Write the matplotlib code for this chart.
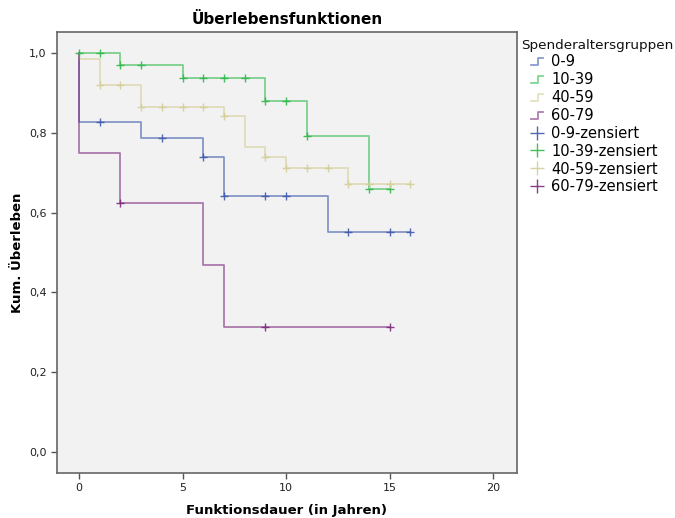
import numpy as np
import matplotlib
matplotlib.use("Agg")
import matplotlib.pyplot as plt
from matplotlib.lines import Line2D
from matplotlib.legend_handler import HandlerBase

# ---- data ----
groups = ["0-9", "10-39", "40-59", "60-79"]
colors = ["#3E58AC", "#2EB848", "#D3CE97", "#7C287D"]

t_0_9 = [0, 0, 3, 6, 7, 12, 16]
s_0_9 = [1.0, 0.828, 0.787, 0.740, 0.641, 0.551, 0.551]
c_0_9 = [1, 4, 6, 7, 9, 10, 13, 15, 16]

t_10_39 = [0, 2, 5, 9, 11, 14, 15]
s_10_39 = [1.0, 0.969, 0.9375, 0.879, 0.791, 0.659, 0.659]
c_10_39 = [0, 1, 2, 3, 5, 6, 7, 8, 9, 10, 11, 14, 15]

t_40_59 = [0, 0, 1, 3, 7, 8, 9, 10, 13, 16]
s_40_59 = [1.0, 0.985, 0.920, 0.865, 0.842, 0.765, 0.740, 0.712, 0.671, 0.671]
c_40_59 = [1, 2, 3, 4, 5, 6, 7, 9, 10, 11, 12, 13, 14, 15, 16]

t_60_79 = [0, 0, 2, 6, 7, 15]
s_60_79 = [1.0, 0.75, 0.625, 0.469, 0.3125, 0.3125]
c_60_79 = [2, 9, 15]

times = [t_0_9, t_10_39, t_40_59, t_60_79]
survs = [s_0_9, s_10_39, s_40_59, s_60_79]
cens = [c_0_9, c_10_39, c_40_59, c_60_79]

xticks = [0, 5, 10, 15, 20]
yticks = [0.0, 0.2, 0.4, 0.6, 0.8, 1.0]
ytick_labels = ["0,0", "0,2", "0,4", "0,6", "0,8", "1,0"]

# ---- figure ----
fig = plt.figure(figsize=(6.75, 5.18), dpi=100)
ax = fig.add_axes([0.0844, 0.0875, 0.6811, 0.8507])
ax.set_facecolor("#F2F2F2")

for t, s, c, col in zip(times, survs, cens, colors):
    t = np.asarray(t, float)
    s = np.asarray(s, float)
    ax.step(t, s, where="post", color=col, lw=1.3, alpha=0.6, zorder=2)
    c = np.asarray(c, float)
    idx = np.searchsorted(t, c, side="right") - 1
    ax.plot(c, s[idx], ls="none", marker="+", ms=5.5, mew=1.0, color=col,
            alpha=0.9, zorder=3)

ax.set_xlim(-1.06, 21.13)
ax.set_ylim(-0.053, 1.053)
ax.set_xticks(xticks)
ax.set_yticks(yticks)
ax.set_yticklabels(ytick_labels)
ax.tick_params(direction="out", length=4, width=1, color="#555555",
               labelsize=8, labelcolor="#222222")
for sp in ax.spines.values():
    sp.set_color("#666666")
    sp.set_linewidth(1.2)

ax.set_title("Überlebensfunktionen", fontsize=11, fontweight="bold", pad=6)
ax.set_xlabel("Funktionsdauer (in Jahren)", fontsize=9.5, fontweight="bold", labelpad=8)
ax.set_ylabel("Kum. Überleben", fontsize=9.5, fontweight="bold")
ax.yaxis.set_label_coords(-0.072, 0.5)


class StepHandler(HandlerBase):
    def create_artists(self, legend, orig_handle, xdescent, ydescent,
                       width, height, fontsize, trans):
        x0 = -xdescent
        y0 = -ydescent
        xs = [x0, x0 + width * 0.6, x0 + width * 0.6, x0 + width]
        ys = [y0 + height * 0.1, y0 + height * 0.1, y0 + height * 0.75, y0 + height * 0.75]
        ln = Line2D(xs, ys, color=orig_handle.get_color(), lw=1.3, alpha=0.6,
                    transform=trans)
        return [ln]


step_handles = [Line2D([], [], color=col) for col in colors]
cens_handles = [Line2D([], [], ls="none", marker="+", ms=10, mew=1.0, color=col,
                       alpha=0.9)
                for col in colors]
labels = groups + [g + "-zensiert" for g in groups]
handler_map = {h: StepHandler() for h in step_handles}

fig.text(521 / 675, 1 - 45 / 518, "Spenderaltersgruppen", fontsize=9.7,
         ha="left", va="center", color="#111111")
leg = fig.legend(step_handles + cens_handles, labels, handler_map=handler_map,
                 loc="upper left", bbox_to_anchor=(531 / 675, 1 - 54 / 518),
                 frameon=False, fontsize=10.5, handlelength=0.8,
                 handletextpad=0.6, labelspacing=0.2, borderpad=0.0,
                 borderaxespad=0.0)

fig.savefig("out.png", dpi=100, facecolor="white")
